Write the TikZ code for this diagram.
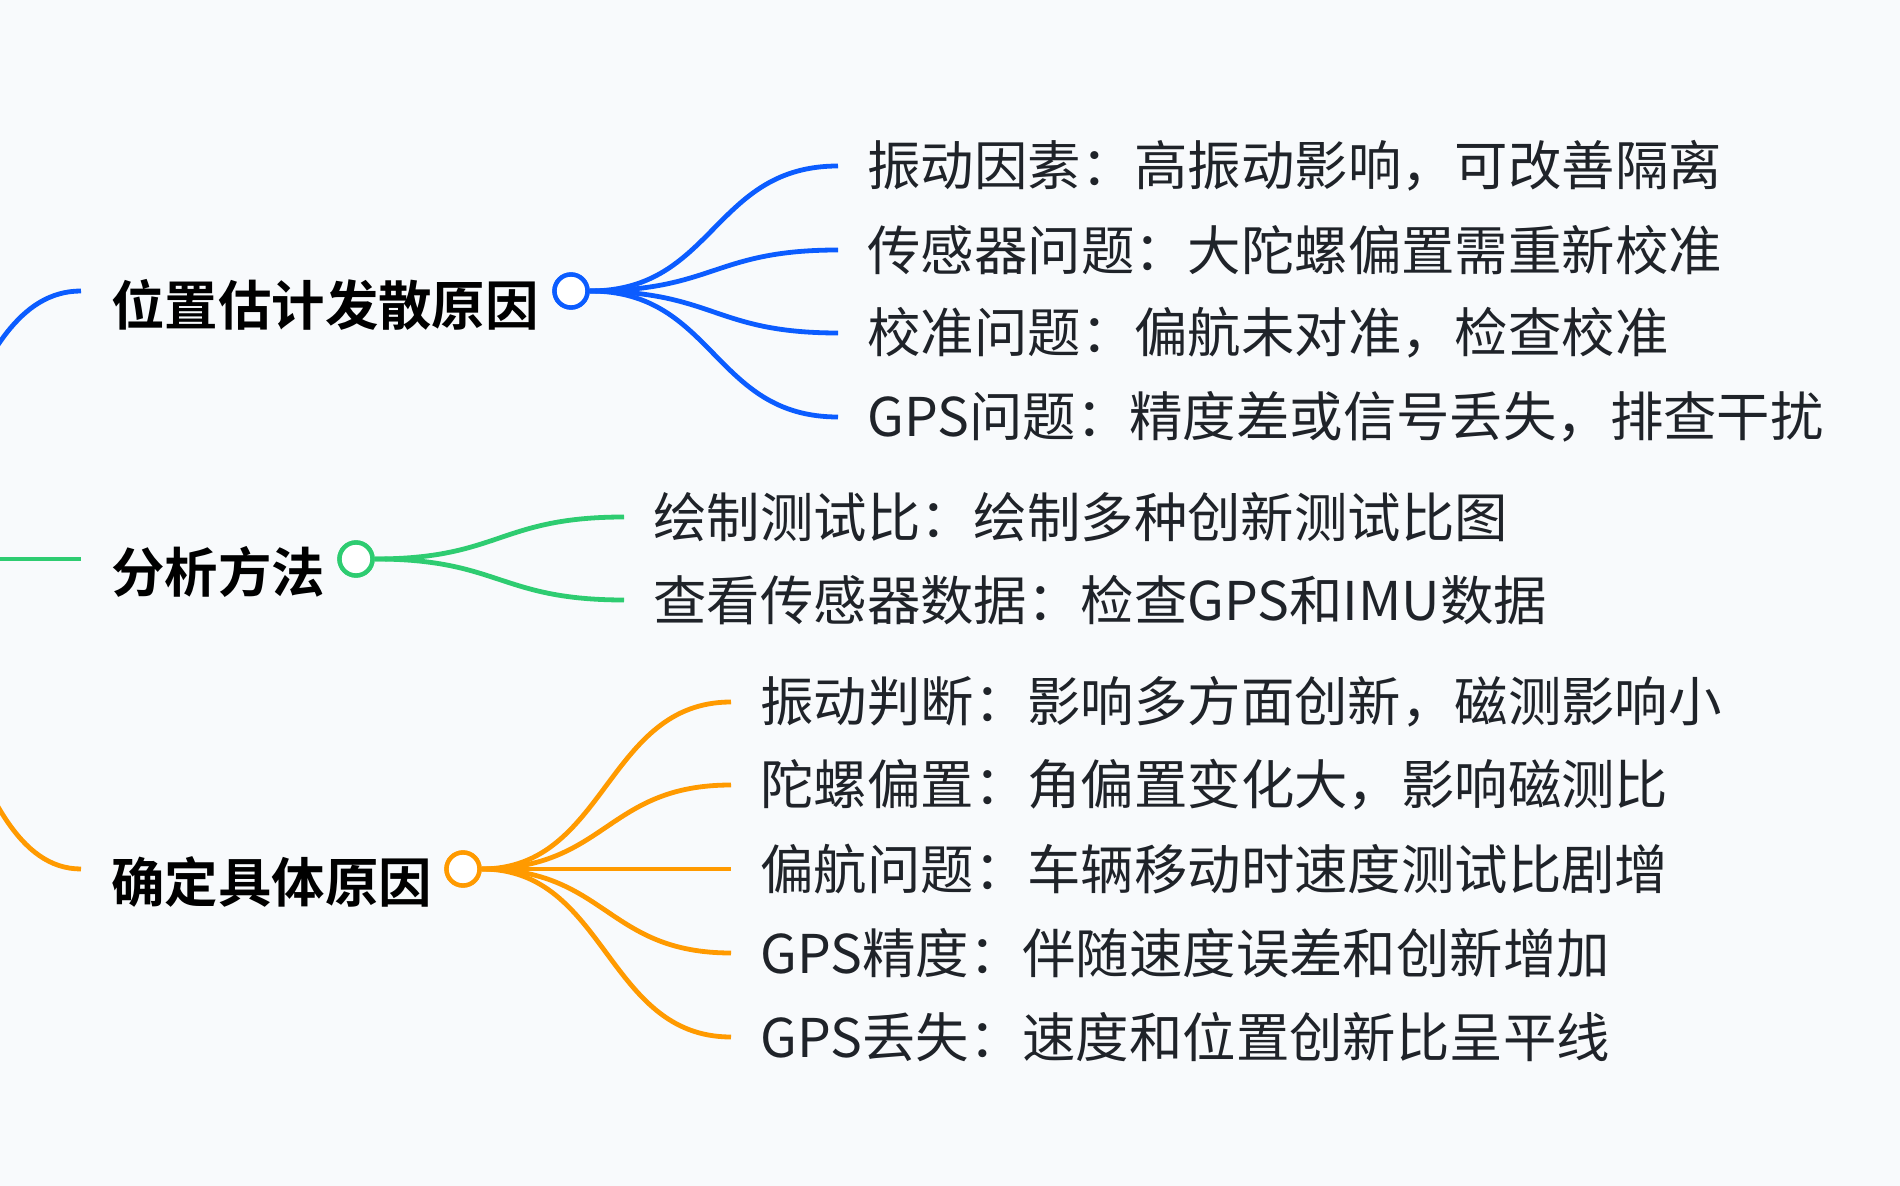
\documentclass[tikz,border=0pt]{standalone}
\usepackage{fontspec}
\setmainfont{Noto Sans CJK SC}[BoldFont={Noto Sans CJK SC Bold}]
\definecolor{bg}{HTML}{F8FAFC}
\definecolor{txt}{HTML}{1F2329}
\definecolor{cblue}{HTML}{0B5CFF}
\definecolor{cgreen}{HTML}{2ECC71}
\definecolor{corange}{HTML}{FF9A00}
\begin{document}
\begin{tikzpicture}[x=0.5pt,y=-0.5pt,
  leaf/.style={anchor=west,inner sep=0pt,font=\fontsize{26.7pt}{30pt}\selectfont,text=txt},
  rootlbl/.style={anchor=west,inner sep=0pt,font=\fontsize{26.7pt}{30pt}\selectfont\bfseries,text=black},
  hub/.style={circle,draw=#1,fill=white,line width=2.2pt,minimum size=16.5pt,inner sep=0pt},
  conn/.style={draw=#1,line width=2.4pt},
  ]
\useasboundingbox (0,0) rectangle (1900,1186);
\clip (0,0) rectangle (1900,1186);
\path[fill=bg] (0,0) rectangle (1900,1186);
\coordinate (root) at (-170,559);

% labels of main branches
\node[rootlbl] (l1) at (111,305) {位置估计发散原因};
\node[rootlbl] (l2) at (111,572) {分析方法};
\node[rootlbl] (l3) at (111,882) {确定具体原因};

% hubs
\node[hub=cblue] (h1) at (571,291) {};
\node[hub=cgreen] (h2) at (356,559) {};
\node[hub=corange] (h3) at (463,869) {};

% root connectors
\draw[conn=cblue] (root) .. controls +(125,0) and +(-125,0) .. ([xshift=-15pt,yshift=7pt]l1.west);
\draw[conn=cgreen] (root) .. controls +(125,0) and +(-125,0) .. ([xshift=-15pt,yshift=6.5pt]l2.west);
\draw[conn=corange] (root) .. controls +(125,0) and +(-125,0) .. ([xshift=-15pt,yshift=6.5pt]l3.west);

% blue leaves
\node[leaf] (b1) at (867,166) {振动因素：高振动影响，可改善隔离};
\node[leaf] (b2) at (867,250) {传感器问题：大陀螺偏置需重新校准};
\node[leaf] (b3) at (867,333) {校准问题：偏航未对准，检查校准};
\node[leaf] (b4) at (867,417) {GPS问题：精度差或信号丢失，排查干扰};
\foreach \n in {b1,b2,b3,b4}
  \draw[conn=cblue] (h1.east) .. controls +(125,0) and +(-125,0) .. ([xshift=-14.5pt]\n.west);

% green leaves
\node[leaf] (g1) at (653,517) {绘制测试比：绘制多种创新测试比图};
\node[leaf] (g2) at (653,600) {查看传感器数据：检查GPS和IMU数据};
\foreach \n in {g1,g2}
  \draw[conn=cgreen] (h2.east) .. controls +(125,0) and +(-125,0) .. ([xshift=-14.5pt]\n.west);

% orange leaves
\node[leaf] (o1) at (760,702) {振动判断：影响多方面创新，磁测影响小};
\node[leaf] (o2) at (760,785) {陀螺偏置：角偏置变化大，影响磁测比};
\node[leaf] (o3) at (760,869) {偏航问题：车辆移动时速度测试比剧增};
\node[leaf] (o4) at (760,953) {GPS精度：伴随速度误差和创新增加};
\node[leaf] (o5) at (760,1037) {GPS丢失：速度和位置创新比呈平线};
\foreach \n in {o1,o2,o3,o4,o5}
  \draw[conn=corange] (h3.east) .. controls +(125,0) and +(-125,0) .. ([xshift=-14.5pt]\n.west);

% redraw hubs on top
\node[hub=cblue] at (h1) {};
\node[hub=cgreen] at (h2) {};
\node[hub=corange] at (h3) {};
\end{tikzpicture}
\end{document}
